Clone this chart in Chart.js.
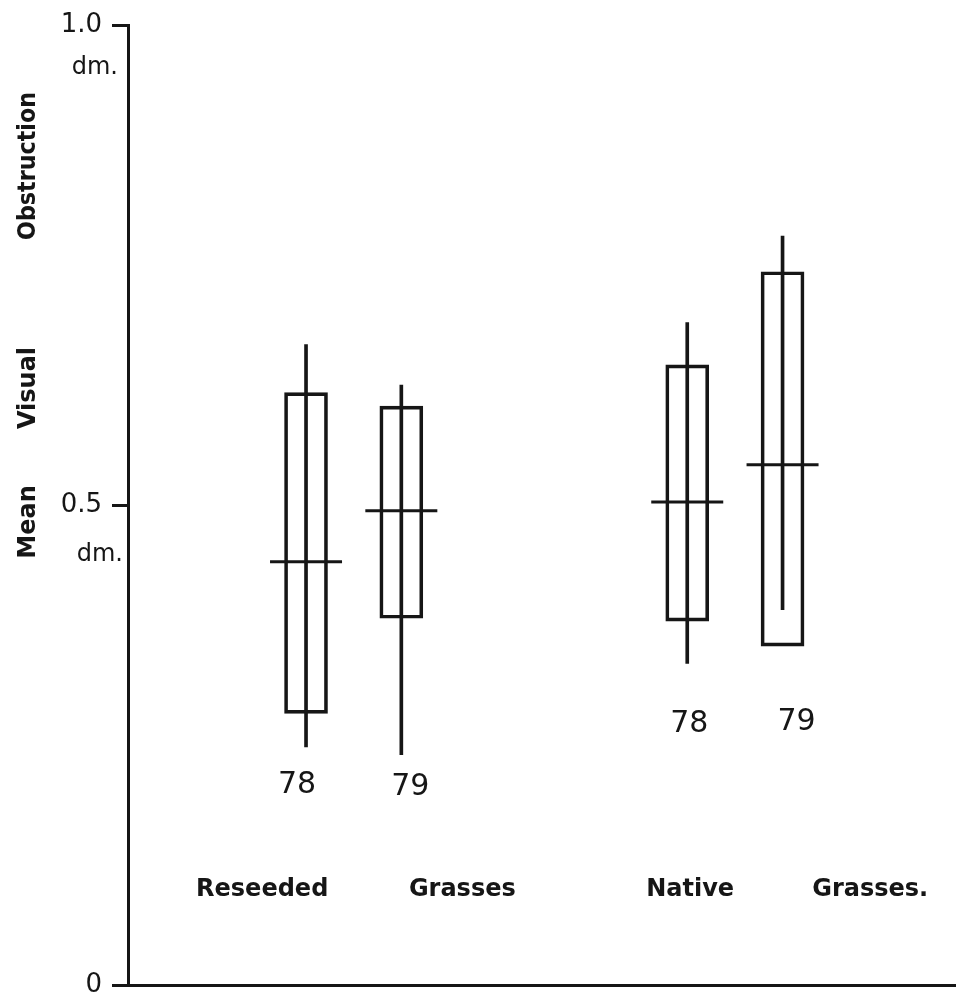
<!DOCTYPE html>
<html>
<head>
<meta charset="utf-8">
<script src="https://cdn.jsdelivr.net/npm/chart.js@4.4.1/dist/chart.umd.min.js"></script>
<style>
    html, body { margin: 0; padding: 0; background: #fff; }
    #wrap { width: 956px; height: 999px; position: relative; }
</style>
</head>
<body>
<div id="wrap"><canvas id="chart"></canvas></div>
<script>
// x slots: reseeded 78, 79 then native 78, 79
const slots = [1, 2, 5, 6];
const years = ['78', '79', '78', '79'];
const groupNames = ['Reseeded', 'Grasses', 'Native', 'Grasses.'];

// mean visual obstruction (dm)
const means = [0.441, 0.494, 0.503, 0.542];
const boxLow = [0.283, 0.382, 0.379, 0.353];
const boxHigh = [0.617, 0.603, 0.646, 0.743];
const rangeLow = [0.248, 0.240, 0.335, 0.391];
const rangeHigh = [0.667, 0.625, 0.690, 0.780];

const yTicks = [0, 0.5, 1.0];
const yTickLabels = ['0', '0.5', '1.0'];
const yTitleWords = ['Obstruction', 'Visual', 'Mean'];

const ink = '#161616';

function noPadding(s) {
    s.paddingLeft = 0;
    s.paddingRight = 0;
    s.paddingTop = 0;
    s.paddingBottom = 0;
}

// free text drawn on top of the plot
const annotations = {
    id: 'annotations',
    afterDraw(chart) {
        const { ctx, scales: { x, y } } = chart;
        ctx.save();
        ctx.fillStyle = ink;
        ctx.textAlign = 'center';
        ctx.textBaseline = 'middle';

        // year under each box
        const yearLevel = [0.208, 0.206, 0.272, 0.274];
        const yearShift = [-9, 9, 2, 14];
        ctx.font = '30px "DejaVu Sans"';
        years.forEach((t, i) => {
            ctx.fillText(t, x.getPixelForValue(slots[i]) + yearShift[i], y.getPixelForValue(yearLevel[i]));
        });

        // group names
        const nameX = [0.54, 2.64, 5.03, 6.92];
        ctx.font = 'bold 24px "DejaVu Sans"';
        groupNames.forEach((t, i) => {
            ctx.fillText(t, x.getPixelForValue(nameX[i]), y.getPixelForValue(0.099));
        });

        // units under the tick labels
        ctx.textAlign = 'right';
        ctx.font = '24px "DejaVu Sans"';
        ctx.fillText('dm.', 118, y.getPixelForValue(1.0) + 43);
        ctx.fillText('dm.', 123, y.getPixelForValue(0.5) + 50);

        // rotated axis title, one word at a time
        const titleY = [166, 388, 522];
        const titleW = [148, 86, 88];
        ctx.font = 'bold 24px "DejaVu Sans"';
        ctx.textAlign = 'center';
        yTitleWords.forEach((w, i) => {
            ctx.save();
            ctx.translate(29, titleY[i]);
            ctx.rotate(-Math.PI / 2);
            ctx.fillText(w, 0, 0, titleW[i]);
            ctx.restore();
        });
        ctx.restore();
    }
};

const ctx = document.getElementById('chart').getContext('2d');
new Chart(ctx, {
    type: 'bar',
    data: {
        datasets: [
            {
                type: 'line',
                label: 'mean',
                data: slots.map((s, i) => ({ x: s, y: means[i] })),
                showLine: false,
                pointStyle: 'line',
                pointRadius: 36,
                pointHoverRadius: 36,
                pointBorderWidth: 3,
                borderColor: ink,
                backgroundColor: ink
            },
            {
                label: 'range',
                data: slots.map((s, i) => ({ x: s, y: [rangeLow[i], rangeHigh[i]] })),
                barThickness: 3,
                backgroundColor: ink,
                borderWidth: 0,
                grouped: false
            },
            {
                label: 'box',
                data: slots.map((s, i) => ({ x: s, y: [boxLow[i], boxHigh[i]] })),
                barThickness: 43,
                backgroundColor: 'rgba(0,0,0,0)',
                borderColor: ink,
                borderWidth: 3,
                borderSkipped: false,
                grouped: false
            }
        ]
    },
    options: {
        responsive: true,
        maintainAspectRatio: false,
        animation: false,
        layout: { autoPadding: false, padding: { top: 25, right: 0, bottom: 0, left: 0 } },
        plugins: {
            legend: { display: false },
            tooltip: { enabled: false }
        },
        scales: {
            x: {
                type: 'linear',
                min: -0.868,
                max: 7.82,
                offset: false,
                ticks: { display: false },
                grid: { display: false },
                border: { display: true, color: ink, width: 3 },
                afterFit: s => { s.height = 14; noPadding(s); }
            },
            y: {
                min: 0,
                max: 1,
                afterBuildTicks: s => { s.ticks = yTicks.map(v => ({ value: v })); },
                ticks: {
                    callback: (v, i) => yTickLabels[i],
                    color: ink,
                    padding: 10,
                    font: { family: 'DejaVu Sans', size: 26 }
                },
                grid: { drawOnChartArea: false, drawTicks: true, tickLength: 16, color: ink, lineWidth: 3 },
                border: { display: true, color: ink, width: 3 },
                afterFit: s => { s.width = 128; noPadding(s); }
            }
        }
    },
    plugins: [annotations]
});
</script>
</body>
</html>
